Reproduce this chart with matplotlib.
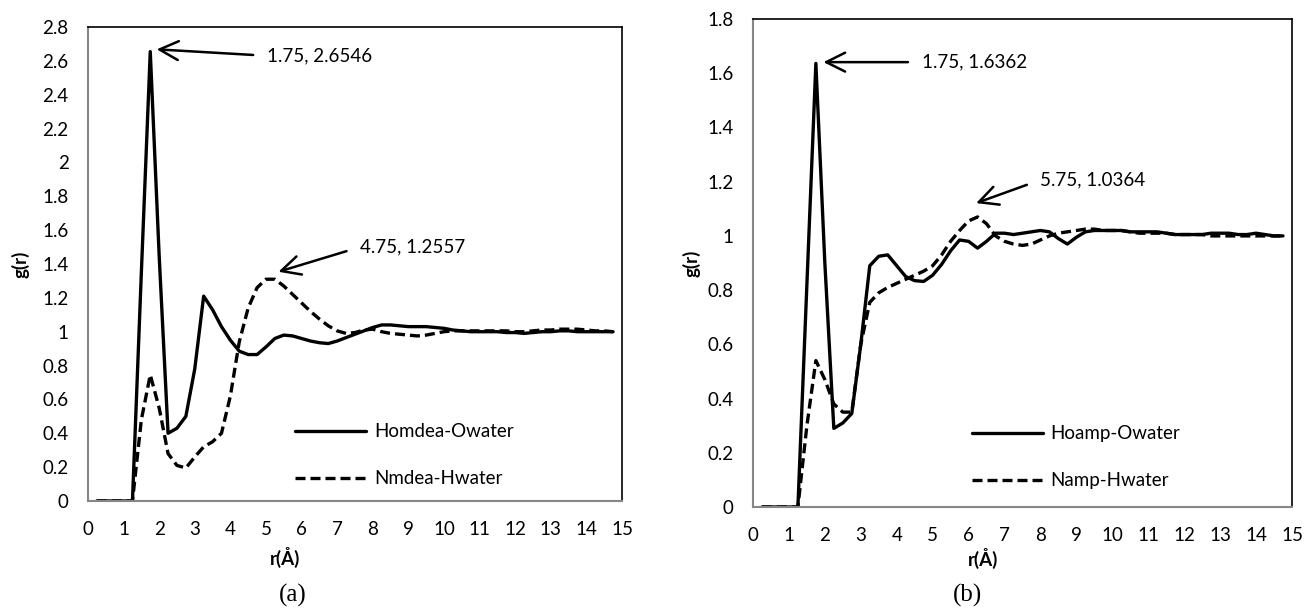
"""RDF comparison: (a) MDEA-water, (b) AMP-water."""

import matplotlib

matplotlib.use("Agg")
import matplotlib.pyplot as plt  # noqa: E402
from matplotlib.ticker import FuncFormatter, MultipleLocator  # noqa: E402

plt.rcParams["font.family"] = ["Lato", "DejaVu Sans"]

# r in Angstrom, 0.25 step
r = [0.25, 0.5, 0.75, 1.0, 1.25, 1.5, 1.75, 2.0, 2.25, 2.5, 2.75, 3.0, 3.25, 3.5, 3.75,
     4.0, 4.25, 4.5, 4.75, 5.0, 5.25, 5.5, 5.75, 6.0, 6.25, 6.5, 6.75,
     7.0, 7.25, 7.5, 7.75, 8.0, 8.25, 8.5, 8.75, 9.0, 9.25, 9.5, 9.75,
     10.0, 10.25, 10.5, 10.75, 11.0, 11.25, 11.5, 11.75, 12.0, 12.25, 12.5, 12.75,
     13.0, 13.25, 13.5, 13.75, 14.0, 14.25, 14.5, 14.75]

homdea_owater = [0, 0, 0, 0, 0,
                 1.35, 2.6546, 1.45, 0.40, 0.43, 0.50, 0.78, 1.21, 1.13, 1.03,
                 0.95, 0.885, 0.865, 0.865, 0.91, 0.96, 0.98, 0.975, 0.96, 0.945, 0.935, 0.93,
                 0.945, 0.965, 0.985, 1.005, 1.025, 1.04, 1.04, 1.035, 1.03, 1.03, 1.03, 1.025,
                 1.02, 1.01, 1.005, 1.0, 1.0, 1.0, 1.0, 0.995, 0.995, 0.99, 0.995, 1.0,
                 1.0, 1.005, 1.005, 1.0, 1.0, 1.0, 1.0, 1.0]
nmdea_hwater = [0, 0, 0, 0, 0,
                0.48, 0.745, 0.55, 0.28, 0.21, 0.195, 0.26, 0.32, 0.35, 0.40,
                0.62, 0.94, 1.14, 1.26, 1.31, 1.31, 1.27, 1.22, 1.17, 1.12, 1.075, 1.035,
                1.005, 0.99, 0.995, 1.01, 1.015, 1.0, 0.99, 0.985, 0.98, 0.975, 0.98, 0.99,
                1.0, 1.005, 1.005, 1.005, 1.005, 1.005, 1.005, 1.005, 1.0, 1.0, 1.005, 1.01,
                1.01, 1.015, 1.015, 1.015, 1.01, 1.005, 1.005, 1.0]

hoamp_owater = [0, 0, 0, 0, 0,
                0.82, 1.6362, 0.90, 0.29, 0.31, 0.345, 0.60, 0.89, 0.925, 0.93,
                0.89, 0.85, 0.835, 0.832, 0.855, 0.895, 0.945, 0.985, 0.98, 0.955, 0.98, 1.01,
                1.01, 1.005, 1.01, 1.015, 1.02, 1.015, 0.99, 0.97, 0.995, 1.015, 1.02, 1.02,
                1.02, 1.02, 1.015, 1.015, 1.015, 1.015, 1.01, 1.005, 1.005, 1.005, 1.005, 1.01,
                1.01, 1.01, 1.005, 1.005, 1.01, 1.005, 1.0, 1.0]
namp_hwater = [0, 0, 0, 0, 0,
               0.30, 0.54, 0.47, 0.38, 0.35, 0.35, 0.60, 0.755, 0.79, 0.81,
               0.825, 0.84, 0.855, 0.87, 0.89, 0.93, 0.98, 1.02, 1.055, 1.07, 1.045, 1.0,
               0.98, 0.97, 0.965, 0.97, 0.985, 1.0, 1.01, 1.015, 1.02, 1.025, 1.025, 1.02,
               1.02, 1.02, 1.015, 1.01, 1.01, 1.01, 1.01, 1.005, 1.005, 1.005, 1.005, 1.0,
               1.0, 1.0, 1.0, 1.0, 1.0, 1.0, 1.0, 1.0]

# peak call-outs: (label, arrow tip, text anchor) in data units
notes_a = [("1.75, 2.6546", (1.93, 2.668), (5.03, 2.63)),
           ("4.75, 1.2557", (5.35, 1.354), (7.64, 1.50))]
notes_b = [("1.75, 1.6362", (1.96, 1.641), (4.70, 1.641)),
           ("5.75, 1.0364", (6.21, 1.121), (7.99, 1.206))]

LW = 2.4
DASH = (3.0, 1.5)
FS = 13.5


def fmt(v, _):
    return f"{round(v, 1):g}"


def draw_panel(ax, solid, dashed, labels, ymax, notes, leg_anchor):
    ax.plot(r, solid, color="black", lw=LW, label=labels[0], solid_capstyle="round")
    ax.plot(r, dashed, color="black", lw=LW, dashes=DASH, label=labels[1])
    ax.set_xlim(0, 15)
    ax.set_ylim(0, ymax)
    ax.xaxis.set_major_locator(MultipleLocator(1))
    ax.yaxis.set_major_locator(MultipleLocator(0.2))
    ax.yaxis.set_major_formatter(FuncFormatter(fmt))
    ax.tick_params(axis="both", length=0, labelsize=FS)
    ax.tick_params(axis="y", pad=14)
    ax.tick_params(axis="x", pad=14.5)
    for side in ("left", "bottom"):
        ax.spines[side].set_color("#868686")
        ax.spines[side].set_linewidth(1.5)
    for side in ("top", "right"):
        ax.spines[side].set_color("black")
        ax.spines[side].set_linewidth(1.2)
    ax.set_ylabel("g(r)", fontsize=FS, fontweight="bold")
    ax.set_xlabel("r(Å)", fontsize=FS, fontweight="bold")

    for text, tip, anchor in notes:
        ax.annotate(text, xy=tip, xytext=anchor, ha="left", va="center", fontsize=FS,
                    arrowprops=dict(arrowstyle="->", lw=1.8, color="black",
                                    mutation_scale=34, shrinkA=8, shrinkB=0,
                                    relpos=(0, 0.5)))

    ax.legend(loc="lower left", bbox_to_anchor=leg_anchor, frameon=False,
              fontsize=FS, handlelength=3.8, handletextpad=0.4,
              labelspacing=1.6, borderaxespad=0, borderpad=0)


fig = plt.figure(figsize=(13.05, 6.08), dpi=100)
ax_a = fig.add_axes([0.0674, 0.176, 0.4092, 0.7796])
ax_b = fig.add_axes([0.577, 0.1661, 0.413, 0.8026])

draw_panel(ax_a, homdea_owater, nmdea_hwater, ("Homdea-Owater", "Nmdea-Hwater"),
           2.8, notes_a, (0.388, 0.0285))
draw_panel(ax_b, hoamp_owater, namp_hwater, ("Hoamp-Owater", "Namp-Hwater"),
           1.8, notes_b, (0.406, 0.036))

ax_a.xaxis.set_label_coords(0.369, -0.097)
ax_b.xaxis.set_label_coords(0.427, -0.084)
ax_a.yaxis.set_label_coords(-0.109, 0.5)
ax_b.yaxis.set_label_coords(-0.098, 0.5)

fig.text(0.2245, 0.021, "(a)", ha="center", va="center", fontsize=18,
         family=["Liberation Serif"])
fig.text(0.741, 0.021, "(b)", ha="center", va="center", fontsize=18,
         family=["Liberation Serif"])

fig.savefig("out.png", dpi=100)
